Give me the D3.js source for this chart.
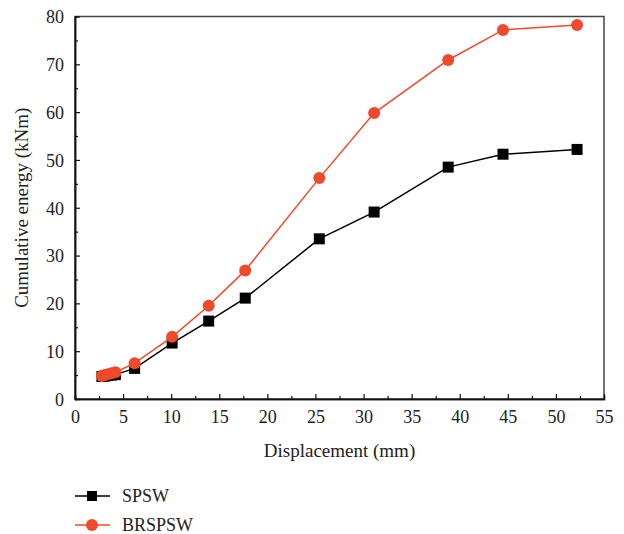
<!DOCTYPE html>
<html>
<head>
<meta charset="utf-8">
<script src="https://cdn.jsdelivr.net/npm/d3@7"></script>
<style>
  body { margin: 0; background: #fff; }
  text { font-family: "Liberation Serif", "DejaVu Serif", serif; fill: #222; }
</style>
</head>
<body>
<div id="chart"></div>
<script>
// displacement (mm) and cumulative energy (kNm)
const spswX = [2.8, 3.1, 3.4, 3.8, 4.2, 6.2, 10.1, 13.9, 17.7, 25.4, 31.1, 38.8, 44.5, 52.2];
const spswY = [4.7, 4.8, 4.9, 5.0, 5.1, 6.4, 11.7, 16.3, 21.1, 33.5, 39.1, 48.5, 51.2, 52.2];
const brX = [2.8, 3.1, 3.4, 3.8, 4.2, 6.2, 10.1, 13.9, 17.7, 25.4, 31.1, 38.8, 44.5, 52.2];
const brY = [4.8, 5.0, 5.2, 5.4, 5.6, 7.5, 13.0, 19.5, 26.9, 46.2, 59.8, 70.9, 77.2, 78.2];
const xTicks = [0, 5, 10, 15, 20, 25, 30, 35, 40, 45, 50, 55];
const yTicks = [0, 10, 20, 30, 40, 50, 60, 70, 80];
const seriesNames = ['SPSW', 'BRSPSW'];

const width = 624, height = 534;
const margin = { top: 16.5, right: 20, bottom: 135, left: 75 };
const red = '#ef4a2b';
const serif = '"Liberation Serif", "DejaVu Serif", serif';

const svg = d3.select('#chart').append('svg')
    .attr('width', width)
    .attr('height', height);

const x = d3.scaleLinear().domain([0, 55]).range([margin.left, width - margin.right]);
const y = d3.scaleLinear().domain([0, 80]).range([height - margin.bottom, margin.top]);

// frame
svg.append('rect')
    .attr('x', x(0)).attr('y', y(80))
    .attr('width', x(55) - x(0)).attr('height', y(0) - y(80))
    .attr('fill', 'none').attr('stroke', '#444').attr('stroke-width', 1.5);

// x axis
const xAxis = svg.append('g')
    .attr('transform', `translate(0,${y(0)})`)
    .call(d3.axisBottom(x).tickValues(xTicks).tickSizeInner(-5).tickSizeOuter(0).tickPadding(11));
xAxis.append('g').call(d3.axisBottom(x).tickValues(d3.range(2.5, 55, 5)).tickSize(-3).tickFormat(''));

// y axis
const yAxis = svg.append('g')
    .attr('transform', `translate(${x(0)},0)`)
    .call(d3.axisLeft(y).tickValues(yTicks).tickSizeInner(-5).tickSizeOuter(0).tickPadding(11));
yAxis.append('g').call(d3.axisLeft(y).tickValues(d3.range(5, 80, 10)).tickSize(-3).tickFormat(''));

svg.selectAll('g').attr('font-family', serif);
svg.selectAll('.domain').attr('stroke', '#111').attr('stroke-width', 1.5);
svg.selectAll('.tick line').attr('stroke', '#111').attr('stroke-width', 1.2);
svg.selectAll('.tick text')
    .style('font-family', serif)
    .style('font-size', '18px')
    .attr('fill', '#222');
yAxis.selectAll('.tick text').attr('dy', '0.35em');

// axis titles
svg.append('text')
    .attr('x', (x(0) + x(55)) / 2).attr('y', 457)
    .attr('text-anchor', 'middle')
    .style('font-family', serif)
    .style('font-size', '19px')
    .text('Displacement (mm)');

svg.append('text')
    .attr('transform', `translate(28,${(y(0) + y(80)) / 2}) rotate(-90)`)
    .attr('text-anchor', 'middle')
    .style('font-family', serif)
    .style('font-size', '19px')
    .text('Cumulative energy (kNm)');

const line = d3.line().x(d => x(d[0])).y(d => y(d[1]));
const spsw = spswX.map((v, i) => [v, spswY[i]]);
const br = brX.map((v, i) => [v, brY[i]]);

// SPSW
svg.append('path').datum(spsw)
    .attr('d', line).attr('fill', 'none').attr('stroke', '#000').attr('stroke-width', 1.5);
svg.selectAll('.sq').data(spsw).enter().append('rect')
    .attr('x', d => x(d[0]) - 5.5).attr('y', d => y(d[1]) - 5.5)
    .attr('width', 11).attr('height', 11).attr('fill', '#000');

// BRSPSW
svg.append('path').datum(br)
    .attr('d', line).attr('fill', 'none').attr('stroke', red).attr('stroke-width', 1.5);
svg.selectAll('.ci').data(br).enter().append('circle')
    .attr('cx', d => x(d[0])).attr('cy', d => y(d[1]))
    .attr('r', 6).attr('fill', red);

// legend
const legend = svg.append('g');
[496, 525].forEach((ly, i) => {
    const col = i === 0 ? '#000' : red;
    legend.append('line').attr('x1', 75).attr('x2', 110).attr('y1', ly).attr('y2', ly)
        .attr('stroke', col).attr('stroke-width', 1.5);
    if (i === 0) {
        legend.append('rect').attr('x', 87).attr('y', ly - 5).attr('width', 10).attr('height', 10).attr('fill', col);
    } else {
        legend.append('circle').attr('cx', 92).attr('cy', ly).attr('r', 6).attr('fill', col);
    }
    legend.append('text').attr('x', 122).attr('y', ly).attr('dy', '0.35em')
        .style('font-family', serif)
        .style('font-size', '18px').text(seriesNames[i]);
});
</script>
</body>
</html>
